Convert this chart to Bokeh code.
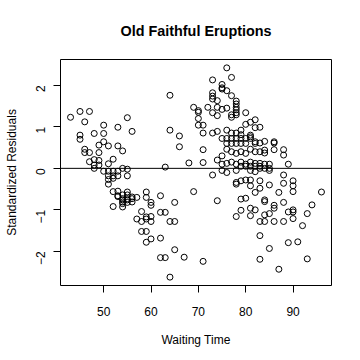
import math
from bokeh.plotting import figure
from bokeh.models import Range1d, FixedTicker, Span
from bokeh.embed import file_html
from bokeh.resources import INLINE

# Waiting time (minutes) for each eruption
waiting = [
    43,
    45, 45, 45,
    46, 46, 46,
    47, 47, 47,
    48, 48, 48, 48,
    49, 49, 49, 49,
    50, 50, 50, 50,
    51, 51, 51, 51, 51, 51,
    52, 52, 52, 52, 52, 52,
    53, 53, 53, 53, 53, 53, 53,
    54, 54, 54, 54, 54, 54, 54, 54,
    55, 55, 55, 55, 55, 55, 55, 55,
    56, 56, 56, 56,
    57, 57,
    58, 58, 58,
    59, 59, 59, 59, 59, 59,
    60, 60, 60, 60, 60,
    62, 62, 62, 62,
    63, 63, 63,
    64, 64, 64, 64,
    65, 65, 65,
    66, 66,
    67,
    68,
    69, 69,
    70, 70, 70, 70,
    71, 71, 71, 71, 71,
    72,
    73, 73, 73, 73, 73, 73, 73,
    74, 74, 74, 74, 74, 74,
    75, 75, 75, 75, 75, 75, 75, 75,
    76, 76, 76, 76, 76, 76, 76, 76, 76,
    77, 77, 77, 77, 77, 77, 77, 77, 77,
    78, 78, 78, 78, 78, 78, 78, 78, 78, 78, 78, 78, 78, 78, 78,
    79, 79, 79, 79, 79, 79, 79, 79, 79, 79,
    80, 80, 80, 80, 80, 80, 80, 80, 80,
    81, 81, 81, 81, 81, 81, 81, 81, 81, 81, 81, 81,
    82, 82, 82, 82, 82, 82, 82, 82, 82, 82,
    83, 83, 83, 83, 83, 83, 83, 83, 83, 83, 83,
    84, 84, 84, 84, 84, 84, 84, 84, 84,
    85, 85, 85, 85, 85, 85,
    86, 86, 86, 86, 86, 86,
    87, 87,
    88, 88, 88, 88, 88, 88,
    89, 89, 89,
    90, 90, 90, 90, 90, 90,
    91,
    92,
    93, 93,
    94,
    96,
]

# Standardized residual for each eruption (same order as waiting)
std_residuals = [
    1.23,
    1.37, 0.80, 0.70,
    1.12, 0.46, 0.38,
    1.37, 0.38, 0.16,
    0.84, 0.21, 0.08, 0.00,
    0.56, 0.38, 0.19, 0.08,
    1.04, 0.84, 0.64, -0.07,
    0.54, 0.11, -0.07, -0.18, -0.27, -0.38,
    0.22, -0.07, -0.18, -0.24, -0.56, -0.92,
    0.99, 0.54, -0.07, -0.18, -0.55, -0.66, -0.68,
    0.42, 0.00, -0.64, -0.73, -0.81, -0.93, -0.85, -0.76,
    1.22, -0.02, -0.18, -0.57, -0.64, -0.73, -0.82, -0.76,
    0.89, -0.69, -0.73, -0.81,
    -0.70, -1.22,
    -1.04, -1.28, -1.52,
    -0.57, -0.70, -1.17, -1.22, -1.52, -1.78,
    -0.82, -0.89, -1.16, -1.28, -1.70,
    -0.66, -1.06, -1.68, -2.15,
    0.03, -1.06, -2.15,
    1.76, 0.92, -1.28, -2.62,
    -0.82, -1.28, -1.96,
    0.78, 0.52,
    -2.14,
    0.13,
    1.47, -0.56,
    1.39, 1.35, 1.20, 1.04,
    1.04, 0.85, 0.45, 0.14, -2.24,
    1.47,
    2.13, 1.82, 1.74, 1.67, 1.34, 0.85, -0.16,
    1.63, 1.47, 1.27, 0.89, 0.20, -0.78,
    2.02, 1.94, 1.91, 1.42, 0.72, 0.30, 0.10, -0.05,
    2.42, 1.87, 1.45, 0.92, 0.72, 0.60, 0.46, 0.12, -0.10,
    2.19, 1.75, 1.29, 1.23, 0.85, 0.72, 0.60, 0.40, 0.15,
    1.62, 1.55, 1.47, 1.41, 1.34, 1.29, 0.85, 0.72, 0.60, 0.36, 0.10, -0.05, -0.34, -0.38, -1.16,
    0.92, 0.81, 0.72, 0.60, 0.40, 0.15, 0.05, -0.30, -0.74, -1.01,
    1.34, 1.06, 0.72, 0.60, 0.36, 0.10, 0.05, -0.28, -0.72,
    1.11, 0.80, 0.76, 0.72, 0.46, 0.15, 0.05, -0.05, -0.28, -0.42, -0.96, -1.14,
    1.17, 0.98, 0.64, 0.60, 0.40, 0.12, 0.05, -0.08, -0.58, -1.00,
    0.99, 0.61, 0.40, 0.12, 0.05, 0.00, -0.30, -0.48, -1.28, -1.62, -2.19,
    0.65, 0.44, 0.37, 0.10, 0.00, -0.76, -0.80, -1.12, -1.28,
    0.10, 0.00, -0.05, -0.40, -1.09, -1.93,
    0.64, 0.61, 0.45, -0.89, -0.96, -1.28,
    -0.58, -2.43,
    0.45, 0.32, -0.16, -0.36, -0.82, -1.28,
    0.10, -1.05, -1.79,
    -0.30, -0.42, -0.56, -1.00, -1.05, -1.21,
    -1.77,
    -1.38,
    -1.09, -2.18,
    -0.88,
    -0.57,
]

x_ticks = [50, 60, 70, 80, 90]
y_ticks = [-2, -1, 0, 1, 2]

title_text = "Old Faithful Eruptions"
x_label = "Waiting Time"
y_label = "Standardized Residuals"

FONT = "Liberation Sans"

# R-style 4% range extension
xmin, xmax = min(waiting), max(waiting)
ymin, ymax = min(std_residuals), max(std_residuals)
xpad = 0.04 * (xmax - xmin)
ypad = 0.04 * (ymax - ymin)

p = figure(
    width=360, height=360,
    output_backend="svg", toolbar_location=None,
    x_range=Range1d(xmin - xpad, xmax + xpad),
    y_range=Range1d(ymin - ypad, ymax + ypad),
    min_border_left=60, min_border_right=29,
    min_border_top=59, min_border_bottom=75,
    title=title_text,
)

p.title.align = "center"
p.title.text_font = FONT
p.title.text_font_size = "14.4px"
p.title.text_font_style = "bold"
p.title.text_color = "black"
p.title.standoff = 41

p.xgrid.visible = False
p.ygrid.visible = False
p.outline_line_color = "black"
p.outline_line_width = 1
p.background_fill_color = "white"
p.border_fill_color = "white"

for ax, ticks in ((p.xaxis[0], x_ticks), (p.yaxis[0], y_ticks)):
    ax.ticker = FixedTicker(ticks=ticks)
    ax.bounds = (ticks[0], ticks[-1])
    ax.axis_line_color = "black"
    ax.major_tick_line_color = "black"
    ax.major_tick_out = 7
    ax.major_tick_in = 0
    ax.minor_tick_out = 0
    ax.minor_tick_in = 0
    ax.major_label_text_font = FONT
    ax.major_label_text_font_size = "12px"
    ax.major_label_text_color = "black"
    ax.axis_label_text_font = FONT
    ax.axis_label_text_font_size = "12px"
    ax.axis_label_text_font_style = "normal"
    ax.axis_label_text_color = "black"

p.xaxis.axis_label = x_label
p.yaxis.axis_label = y_label
p.xaxis.major_label_standoff = 14
p.xaxis.axis_label_standoff = 14
p.yaxis.major_label_standoff = 13
p.yaxis.axis_label_standoff = 10
p.yaxis.major_label_orientation = math.pi / 2

p.add_layout(Span(location=0, dimension="width", line_color="black", line_width=1))

p.scatter(waiting, std_residuals, marker="circle", size=6,
          fill_color=None, line_color="black", line_width=1)

open("out.html", "w").write(file_html(p, INLINE))
